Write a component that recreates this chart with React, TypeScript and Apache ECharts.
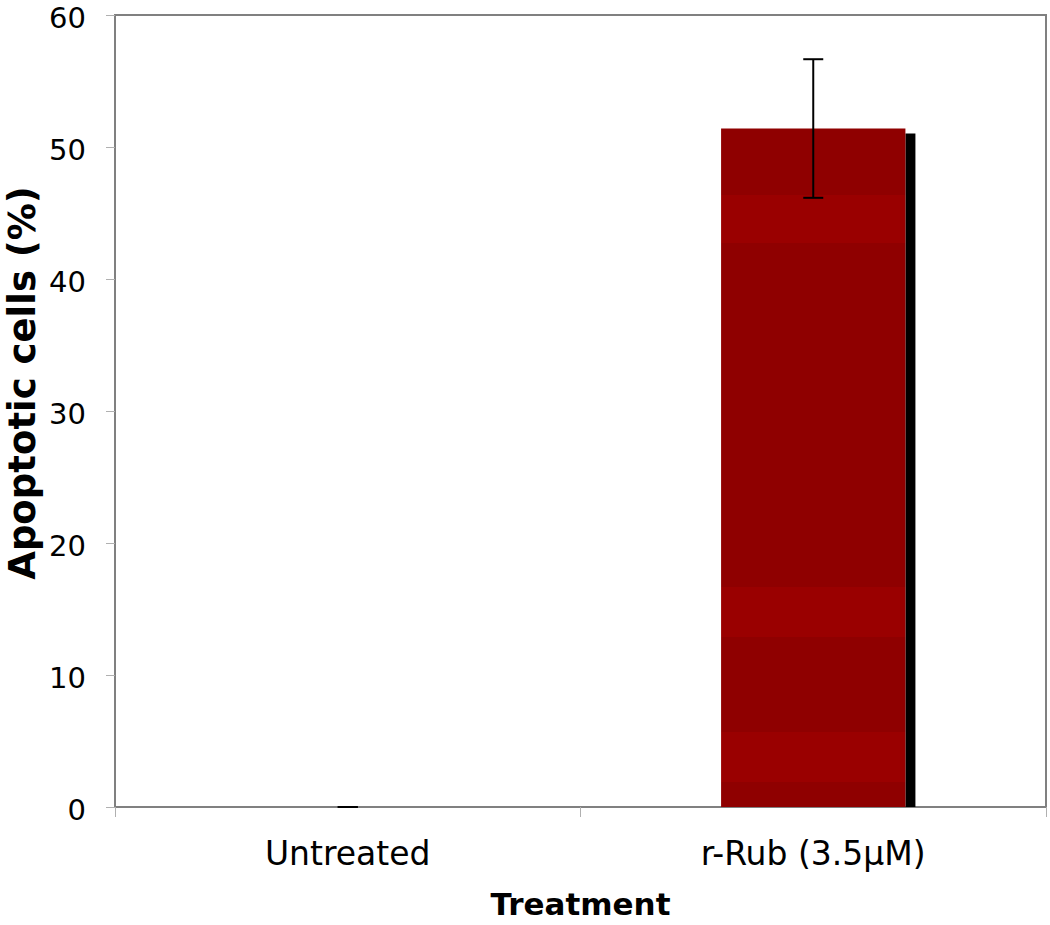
import React, { useEffect, useRef } from "react";
import * as echarts from "echarts";

const categories = ["Untreated", "r-Rub (3.5µM)"];
const means = [0, 51.4];
const errors = [0, 5.25];
const yTicks = { min: 0, max: 60, interval: 10 };
const yTitle = "Apoptotic cells (%)";
const xTitle = "Treatment";

const FONT = "DejaVu Sans, Verdana, sans-serif";
const BAR_PCT = 0.396;

export default function App() {
  const ref = useRef<HTMLDivElement>(null);
  useEffect(() => {
    if (!ref.current) return;
    const chart = echarts.init(ref.current, null, { renderer: "svg" });
    const dark = "#8f0000";
    const bright = "#9a0000";
    const stripes = [
      [0, dark], [0.0987, dark], [0.0987, bright], [0.169, bright], [0.169, dark],
      [0.676, dark], [0.676, bright], [0.75, bright], [0.75, dark], [0.89, dark],
      [0.89, bright], [0.963, bright], [0.963, dark], [1, dark],
    ].map(([offset, color]) => ({ offset: offset as number, color: color as string }));

    chart.setOption({
      animation: false,
      backgroundColor: "#ffffff",
      grid: {
        left: 115, right: 4, top: 15, bottom: 118,
        outerBoundsMode: "none",
        containLabel: false,
        show: true, borderColor: "#808080", borderWidth: 2, backgroundColor: "transparent",
      },
      graphic: [
        {
          type: "text",
          x: 22,
          y: 383,
          rotation: Math.PI / 2,
          style: {
            text: yTitle,
            font: "bold 37px " + FONT,
            fill: "#000",
            align: "center",
            verticalAlign: "middle",
          },
        },
      ],
      xAxis: {
        type: "category",
        data: categories,
        boundaryGap: true,
        name: xTitle,
        nameLocation: "middle",
        nameGap: 81,
        nameTextStyle: { fontFamily: FONT, fontSize: 31, fontWeight: "bold", color: "#000" },
        axisLine: { show: true, lineStyle: { color: "#808080", width: 2 } },
        axisTick: { show: true, alignWithLabel: false, length: 10, lineStyle: { color: "#b0b0b0", width: 1 } },
        axisLabel: { fontFamily: FONT, fontSize: 33, color: "#000", margin: 30 },
        splitLine: { show: false },
      },
      yAxis: {
        type: "value",
        min: yTicks.min, max: yTicks.max, interval: yTicks.interval,
        axisLine: { show: true, lineStyle: { color: "#808080", width: 2 } },
        axisTick: { show: true, inside: false, length: 9, lineStyle: { color: "#b0b0b0", width: 1 } },
        axisLabel: {
          margin: 29,
          formatter: "{a|{value}}",
          rich: {
            a: { fontFamily: FONT, fontSize: 29, color: "#000", lineHeight: 30, padding: [6, 0, 0, 0] },
          },
        },
        splitLine: { show: false },
      },
      series: [
        {
          type: "custom",
          z: 1,
          data: means.map((v, i) => [i, v]),
          renderItem: (params: any, api: any) => {
            const i = api.value(0);
            const v = api.value(1);
            if (!v) return null;
            const top = api.coord([i, v]);
            const base = api.coord([i, 0]);
            const band = api.size([1, 0])[0];
            const x = top[0] + (band * BAR_PCT) / 2;
            return {
              type: "rect",
              shape: { x, y: top[1] + 5, width: 10, height: base[1] - top[1] - 5 },
              style: { fill: "#000" },
            };
          },
        },
        {
          type: "bar",
          z: 2,
          data: means,
          barWidth: BAR_PCT * 100 + "%",
          itemStyle: {
            color: { type: "linear", x: 0, y: 0, x2: 0, y2: 1, colorStops: stripes },
          },
        },
        {
          type: "custom",
          z: 3,
          data: means.map((v, i) => [i, v - errors[i], v + errors[i]]),
          renderItem: (params: any, api: any) => {
            const i = api.value(0);
            const lo = api.coord([i, api.value(1)]);
            const hi = api.coord([i, api.value(2)]);
            const cap = 10;
            const style = { stroke: "#000", lineWidth: 2 };
            return {
              type: "group",
              children: [
                { type: "line", shape: { x1: lo[0], y1: lo[1], x2: hi[0], y2: hi[1] }, style },
                { type: "line", shape: { x1: hi[0] - cap, y1: hi[1], x2: hi[0] + cap, y2: hi[1] }, style },
                { type: "line", shape: { x1: lo[0] - cap, y1: lo[1], x2: lo[0] + cap, y2: lo[1] }, style },
              ],
            };
          },
        },
      ],
    });
    return () => chart.dispose();
  }, []);
  return (
    <div
      ref={ref}
      style={{ position: "fixed", left: 0, top: 0, width: 1050, height: 925, background: "#fff" }}
    />
  );
}
